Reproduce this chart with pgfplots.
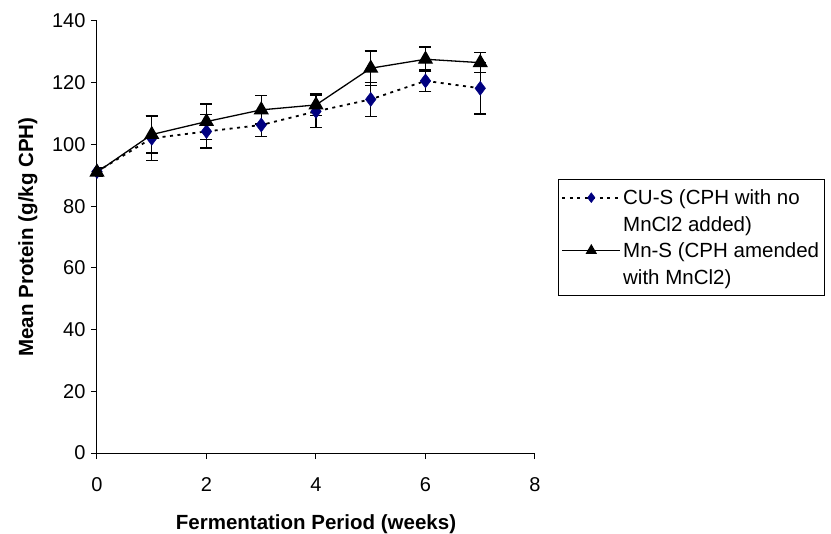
\documentclass[border=0pt]{standalone}
\usepackage{fontspec}
\setmainfont{Liberation Sans}
\usepackage{pgfplots}
\pgfplotsset{compat=1.18}
\definecolor{cunavy}{RGB}{0,0,128}
\newcommand\fs{\fontsize{20.5bp}{27bp}\selectfont}
\newcommand\ft{\fontsize{20bp}{24bp}\selectfont}
\begin{document}
\begin{tikzpicture}
\useasboundingbox (-97bp,-81bp) rectangle (734bp,453bp);
\begin{axis}[
  name=ax, at={(0,0)}, anchor=south west,
  scale only axis, width=438bp, height=432bp,
  xmin=0, xmax=8, ymin=0, ymax=140,
  xtick={0,2,4,6,8}, ytick={0,20,...,140},
  axis x line=bottom, axis y line=left,
  axis line style={-, line width=1bp},
  tick align=outside, major tick length=6bp,
  tick style={line width=1bp, black},
  /pgf/number format/assume math mode=true,
  ticklabel style={font=\ft},
  yticklabel style={xshift=-2bp},
  xticklabel style={yshift=-15.5bp},
  xlabel={\bfseries Fermentation Period (weeks)},
  ylabel={\bfseries Mean Protein (g/kg CPH)},
  xlabel style={font=\fs, at={(axis description cs:0.5,-0.178)}, anchor=base},
  ylabel style={font=\fs, at={(axis description cs:-0.146,0.5)}, anchor=base, rotate=0},
  legend style={font=\fs, at={(axis description cs:1.0525,0.634)}, anchor=north west,
    draw=black, line width=0.8bp, fill=white, inner xsep=3bp, inner ysep=8bp,
    cells={anchor=west, align=left}, row sep=5.5bp},
  legend image code/.code={
    \draw[mark repeat=2, mark phase=2, every mark/.append style={scale=0.7}, #1] plot coordinates {(0bp,13.5bp) (29bp,13.5bp) (58bp,13.5bp)};
  },
]
\addplot[black, line width=1.8bp, dash pattern=on 3bp off 4.5bp,
  mark=diamond*, mark size=7bp, mark options={solid, fill=cunavy, draw=cunavy, line width=0.5bp},
  error bars/.cd, y dir=both, y explicit, error mark options={rotate=90, mark size=6bp, line width=1.3bp, black},
  error bar style={solid, line width=1.3bp, black}]
  table[x=x, y=y, y error=e] {
x y e
0 91.2 1.2
1 102.0 7.2
2 104.2 5.4
3 106.3 3.7
4 110.7 5.2
5 114.6 5.5
6 120.6 3.5
7 118.2 8.3
};
\addlegendentry{CU-S (CPH with no\\MnCl2 added)}
\addplot[black, line width=1.3bp,
  mark=triangle*, mark size=7.5bp, mark options={solid, fill=black, draw=black},
  error bars/.cd, y dir=both, y explicit, error mark options={rotate=90, mark size=6bp, line width=1.3bp, black},
  error bar style={solid, line width=1.3bp, black}]
  table[x=x, y=y, y error=e] {
x y e
0 91.0 1.5
1 103.2 6.0
2 107.4 5.7
3 111.2 4.6
4 112.8 3.5
5 124.7 5.6
6 127.6 4.0
7 126.5 3.3
};
\addlegendentry{Mn-S (CPH amended\\with MnCl2)}
\end{axis}
\end{tikzpicture}
\end{document}
